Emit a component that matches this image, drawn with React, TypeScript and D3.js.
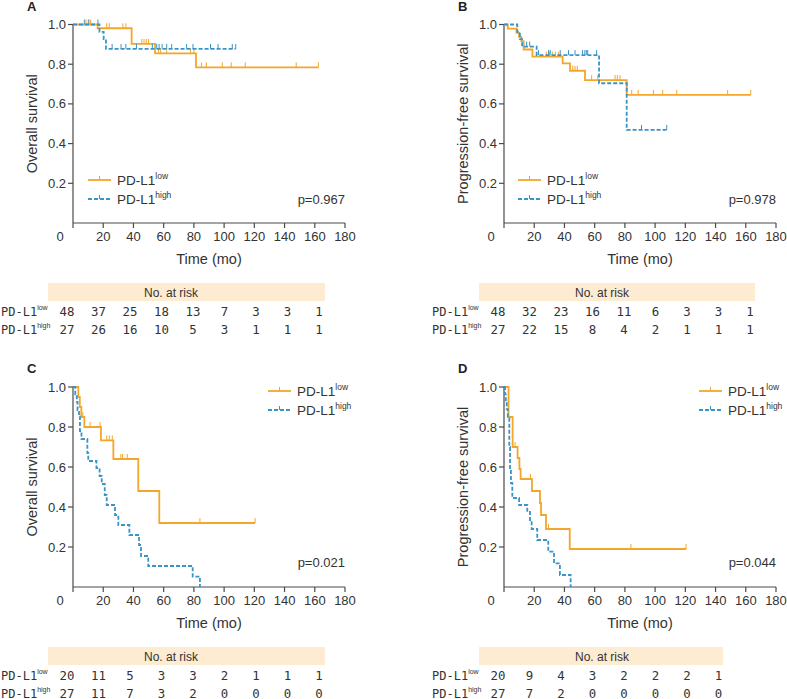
import React from "react";
import * as d3 from "d3";

const W = 787;
const H = 699;

const xTickValues = [20, 40, 60, 80, 100, 120, 140, 160, 180];
const yTickValues = [0.2, 0.4, 0.6, 0.8, 1.0];

// Panel A — Overall survival
const aLowSteps = [[0, 1], [16.3, 0.981], [38.8, 0.902], [54.3, 0.855], [81.4, 0.784]];
const aLowEnd = 162.4;
const aLowCensor = [8.6, 10.1, 11.7, 22.3, 24, 33, 35, 45.5, 47, 48.5, 50, 56.6, 58, 62, 77.8, 80, 85, 88.2, 98.8, 104.7, 114, 147.7, 162.4];
const aHighSteps = [[0, 1], [17.5, 0.963], [20.3, 0.926], [21.8, 0.877]];
const aHighEnd = 107.7;
const aHighCensor = [7.5, 10.5, 16.5, 25.9, 31.8, 35, 42, 52.5, 55.4, 57, 59, 62, 65.3, 75.2, 79.4, 91, 96, 105.4, 107.7];
const aRiskLow = [48, 37, 25, 18, 13, 7, 3, 3, 1];
const aRiskHigh = [27, 26, 16, 10, 5, 3, 1, 1, 1];

// Panel B — Progression-free survival
const bLowSteps = [[0, 1], [2.5, 0.979], [8.3, 0.958], [10, 0.937], [11.5, 0.916], [13, 0.874], [18.8, 0.838], [38.8, 0.804], [43.7, 0.767], [53.6, 0.72], [81.2, 0.645]];
const bLowEnd = 163.3;
const bLowCensor = [28, 30, 32, 34, 36, 45.5, 47, 48.5, 58, 62, 73.5, 75, 76.8, 84.5, 88.8, 98.9, 105, 114.3, 148, 163.3];
const bHighSteps = [[0, 1], [8.8, 0.963], [10.5, 0.926], [12, 0.889], [21.6, 0.846], [62.9, 0.704], [81.2, 0.469]];
const bHighEnd = 107.7;
const bHighCensor = [15, 17, 22.8, 29.5, 30.6, 37.2, 42.7, 47, 52, 53.5, 54.5, 55.4, 61.3, 91, 107.7];
const bRiskLow = [48, 32, 23, 16, 11, 6, 3, 3, 1];
const bRiskHigh = [27, 22, 15, 8, 4, 2, 1, 1, 1];

// Panel C — Overall survival
const cLowSteps = [[0, 1], [3.5, 0.95], [4.5, 0.9], [5.5, 0.85], [7.5, 0.8], [18.5, 0.733], [26.7, 0.64], [43.2, 0.48], [57.1, 0.32]];
const cLowEnd = 120.5;
const cLowCensor = [6.5, 11.3, 17.9, 22.3, 24, 26, 31.7, 32.8, 35.9, 84, 120.5];
const cHighSteps = [[0, 1], [1.5, 0.963], [2.5, 0.926], [3, 0.885], [4, 0.852], [4.6, 0.78], [5.6, 0.74], [9.5, 0.67], [10.1, 0.63], [15.5, 0.595], [17.6, 0.555], [19, 0.515], [21, 0.46], [22.3, 0.41], [27.8, 0.36], [30, 0.31], [37.3, 0.26], [43.7, 0.21], [45, 0.155], [49.8, 0.105], [79.2, 0.052], [84, 0]];
const cHighEnd = 84;
const cHighCensor: number[] = [];
const cRiskLow = [20, 11, 5, 3, 3, 2, 1, 1, 1];
const cRiskHigh = [27, 11, 7, 3, 2, 0, 0, 0, 0];

// Panel D — Progression-free survival
const dLowSteps = [[0, 1], [3, 0.85], [5.7, 0.7], [9, 0.645], [10.2, 0.59], [11, 0.54], [18.5, 0.48], [23.8, 0.42], [24.5, 0.36], [27.8, 0.29], [43.5, 0.19]];
const dLowEnd = 120.5;
const dLowCensor = [7.3, 17.5, 29.5, 84, 120.5];
const dHighSteps = [[0, 1], [0.7, 0.963], [1.2, 0.926], [1.8, 0.889], [2.5, 0.852], [3.5, 0.7], [4, 0.59], [4.6, 0.52], [5.5, 0.445], [10, 0.41], [15.4, 0.375], [17.2, 0.335], [18.3, 0.29], [22, 0.235], [29.3, 0.177], [33.1, 0.118], [37, 0.06], [44.1, 0]];
const dHighEnd = 44.1;
const dHighCensor: number[] = [];
const dRiskLow = [20, 9, 4, 3, 2, 2, 2, 1];
const dRiskHigh = [27, 7, 2, 0, 0, 0, 0, 0];

const ORANGE = "#F4A62A";
const BLUE = "#3A95C6";
const AXIS = "#4a4a4a";
const TEXT = "#333";
const BAND = "#FDEBD2";
const SANS = "'Liberation Sans', Arial, sans-serif";
const MONO = "'DejaVu Sans Mono', monospace";

function survAt(steps: number[][], t: number) {
  let s = steps[0][1];
  for (const [ti, si] of steps) if (ti <= t) s = si;
  return s;
}

type Series = { steps: number[][]; end: number; censor: number[] };

function Curve({ x, y, series, color, dashed }: any) {
  const pts = [...series.steps, [series.end, series.steps[series.steps.length - 1][1]]];
  const line = d3.line<number[]>().x((d) => x(d[0])).y((d) => y(d[1])).curve(d3.curveStepAfter);
  return (
    <g>
      <path d={line(pts) || ""} fill="none" stroke={color} strokeWidth={1.8} strokeDasharray={dashed ? "4,2" : undefined} />
      {series.censor.map((t: number, i: number) => {
        const yy = y(survAt(series.steps, t));
        return <line key={i} x1={x(t)} x2={x(t)} y1={yy} y2={yy - 5} stroke={color} strokeWidth={1} />;
      })}
    </g>
  );
}

function Legend({ lx, ly }: any) {
  const items = [
    { label: "low", color: ORANGE, dashed: false },
    { label: "high", color: BLUE, dashed: true },
  ];
  return (
    <g>
      {items.map((it, i) => {
        const yy = ly + i * 19;
        return (
          <g key={i}>
            <line x1={lx} x2={lx + 23} y1={yy} y2={yy} stroke={it.color} strokeWidth={1.8} strokeDasharray={it.dashed ? "4,2" : undefined} />
            <line x1={lx + 11.5} x2={lx + 11.5} y1={yy} y2={yy - 4} stroke={it.color} strokeWidth={1} />
            <text x={lx + 29} y={yy + 5} fontFamily={SANS} fontSize={13.5} fill={TEXT}>
              PD-L1<tspan dy={-6} fontSize={8.5}>{it.label}</tspan>
            </text>
          </g>
        );
      })}
    </g>
  );
}

function Panel(props: any) {
  const { x0, y0, yTop, letter, yLabel, low, high, riskLow, riskHigh, legend, p, bandEnd } = props;
  const x = d3.scaleLinear().domain([0, 180]).range([x0, x0 + 272]);
  const y = d3.scaleLinear().domain([0, 1]).range([y0, yTop]);
  const col = d3.scaleLinear().domain([0, 1]).range([x0 - 6, x0 - 6 + 31.5]);
  const midY = (y0 + yTop) / 2;
  return (
    <g>
      <text x={x0 - 46} y={yTop - 14} fontFamily={SANS} fontWeight="bold" fontSize={13} fill="#222">{letter}</text>
      {/* axes */}
      <line x1={x0} x2={x0} y1={y0} y2={y(1)} stroke={AXIS} strokeWidth={1.2} />
      <line x1={x0} x2={x(180)} y1={y0} y2={y0} stroke={AXIS} strokeWidth={1.2} />
      {yTickValues.map((v) => (
        <g key={v}>
          <line x1={x0 - 5} x2={x0} y1={y(v)} y2={y(v)} stroke={AXIS} strokeWidth={1.2} />
          <text x={x0 - 7} y={y(v) + 4.5} textAnchor="end" fontFamily={SANS} fontSize={13} fill={TEXT}>{v.toFixed(1)}</text>
        </g>
      ))}
      <line x1={x0} x2={x0} y1={y0} y2={y0 + 5} stroke={AXIS} strokeWidth={1.2} />
      {xTickValues.map((v) => (
        <g key={v}>
          <line x1={x(v)} x2={x(v)} y1={y0} y2={y0 + 5} stroke={AXIS} strokeWidth={1.2} />
          <text x={x(v)} y={y0 + 18} textAnchor="middle" fontFamily={SANS} fontSize={13} fill={TEXT}>{v}</text>
        </g>
      ))}
      <text x={x0 - 13} y={y0 + 18} textAnchor="middle" fontFamily={SANS} fontSize={13} fill={TEXT}>0</text>
      <text x={x0 + 136} y={y0 + 41} textAnchor="middle" fontFamily={SANS} fontSize={14.5} fill={TEXT}>Time (mo)</text>
      <text transform={`translate(${x0 - 36},${midY}) rotate(-90)`} textAnchor="middle" fontFamily={SANS} fontSize={14.5} fill={TEXT}>{yLabel}</text>
      {/* curves */}
      <Curve x={x} y={y} series={low} color={ORANGE} />
      <Curve x={x} y={y} series={high} color={BLUE} dashed />
      <Legend lx={legend[0]} ly={legend[1]} />
      <text x={x(180)} y={p[1]} textAnchor="end" fontFamily={SANS} fontSize={13} fill={TEXT}>{p[0]}</text>
      {/* risk table */}
      <rect x={x0 - 25} y={y0 + 60} width={bandEnd + 25} height={18} fill={BAND} />
      <text x={x0 + 98} y={y0 + 73.5} textAnchor="middle" fontFamily={SANS} fontSize={12} fill={TEXT}>No. at risk</text>
      {[riskLow, riskHigh].map((row: number[], r: number) => (
        <g key={r}>
          <text x={x0 - 72} y={y0 + 93 + r * 17.5} fontFamily={MONO} fontSize={12} fill={TEXT}>
            PD-L1<tspan dy={-6} fontSize={7} fontFamily={SANS}>{r === 0 ? "low" : "high"}</tspan>
          </text>
          {row.map((n, i) => (
            <text key={i} x={col(i)} y={y0 + 93 + r * 17.5} textAnchor="middle" fontFamily={MONO} fontSize={12.4} fill={TEXT}>{n}</text>
          ))}
        </g>
      ))}
    </g>
  );
}

export default function App() {
  return (
    <svg width={W} height={H} style={{ display: "block", position: "absolute", left: 0, top: 0, background: "#fff" }}>
      <Panel x0={73} y0={223} yTop={24.5} letter="A" yLabel="Overall survival"
        low={{ steps: aLowSteps, end: aLowEnd, censor: aLowCensor }}
        high={{ steps: aHighSteps, end: aHighEnd, censor: aHighCensor }}
        riskLow={aRiskLow} riskHigh={aRiskHigh} legend={[88, 180]} p={["p=0.967", 204]} bandEnd={252} />
      <Panel x0={504} y0={223} yTop={24.5} letter="B" yLabel="Progression-free survival"
        low={{ steps: bLowSteps, end: bLowEnd, censor: bLowCensor }}
        high={{ steps: bHighSteps, end: bHighEnd, censor: bHighCensor }}
        riskLow={bRiskLow} riskHigh={bRiskHigh} legend={[518, 180]} p={["p=0.978", 204]} bandEnd={251} />
      <Panel x0={73} y0={587} yTop={387} letter="C" yLabel="Overall survival"
        low={{ steps: cLowSteps, end: cLowEnd, censor: cLowCensor }}
        high={{ steps: cHighSteps, end: cHighEnd, censor: cHighCensor }}
        riskLow={cRiskLow} riskHigh={cRiskHigh} legend={[268, 391]} p={["p=0.021", 567]} bandEnd={252} />
      <Panel x0={504} y0={587} yTop={387} letter="D" yLabel="Progression-free survival"
        low={{ steps: dLowSteps, end: dLowEnd, censor: dLowCensor }}
        high={{ steps: dHighSteps, end: dHighEnd, censor: dHighCensor }}
        riskLow={dRiskLow} riskHigh={dRiskHigh} legend={[699, 391]} p={["p=0.044", 567]} bandEnd={219} />
    </svg>
  );
}
